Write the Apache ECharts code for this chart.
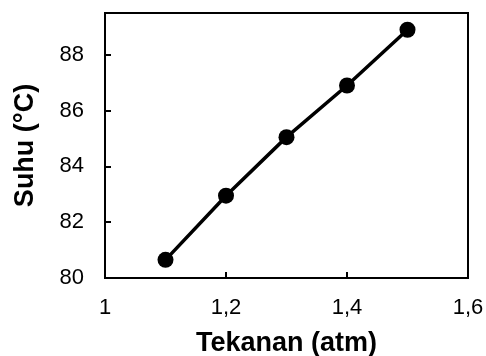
<!DOCTYPE html>
<html>
<head>
<meta charset="utf-8">
<script src="https://cdn.jsdelivr.net/npm/echarts@6/dist/echarts.min.js"></script>
<style>
html,body{margin:0;padding:0;background:#fff;}
#chart{width:486px;height:356px;}
</style>
</head>
<body>
<div id="chart"></div>
<script>
const pressure = [1.1, 1.2, 1.3, 1.4, 1.5];
const temperature = [80.65, 82.95, 85.05, 86.9, 88.9];
const xTicks = [1, 1.2, 1.4, 1.6];
const yTicks = [80, 82, 84, 86, 88];
const xTitle = 'Tekanan (atm)';
const yTitle = 'Suhu (°C)';

const chart = echarts.init(document.getElementById('chart'), null, {renderer: 'canvas'});
const fontFamily = '"Liberation Sans", Arial, sans-serif';
chart.setOption({
  animation: false,
  backgroundColor: '#fff',
  grid: {left: 105, right: 18, top: 13, bottom: 78, show: true, borderColor: '#000', borderWidth: 2,
         containLabel: false, outerBoundsMode: 'none'},
  xAxis: {
    type: 'value',
    min: xTicks[0], max: xTicks[xTicks.length - 1], interval: 0.2,
    name: xTitle, nameLocation: 'middle', nameGap: 52,
    nameTextStyle: {fontFamily, fontSize: 27, fontWeight: 'bold', color: '#000'},
    axisLine: {show: true, lineStyle: {color: '#000', width: 2}},
    axisTick: {show: true, inside: true, length: 6, lineStyle: {color: '#000', width: 2}},
    splitLine: {show: false},
    axisLabel: {
      fontFamily, fontSize: 22, color: '#000', margin: 19,
      formatter: v => String(+(+v).toFixed(1)).replace('.', ',')
    }
  },
  yAxis: {
    type: 'value',
    min: yTicks[0], max: 89.5, interval: 2,
    name: yTitle, nameLocation: 'middle', nameGap: 66, nameRotate: 90,
    nameTextStyle: {fontFamily, fontSize: 27, fontWeight: 'bold', color: '#000'},
    axisLine: {show: true, lineStyle: {color: '#000', width: 2}},
    axisTick: {show: true, inside: true, length: 6, lineStyle: {color: '#000', width: 2}},
    splitLine: {show: false},
    axisLabel: {
      fontFamily, fontSize: 22, color: '#000', margin: 21, showMaxLabel: false,
      formatter: v => (yTicks.indexOf(Math.round(v * 100) / 100) >= 0 ? String(v) : '')
    }
  },
  series: [{
    type: 'line',
    data: pressure.map((p, i) => [p, temperature[i]]),
    symbol: 'circle', symbolSize: 16,
    lineStyle: {color: '#000', width: 3.5},
    itemStyle: {color: '#000'}
  }]
});
</script>
</body>
</html>
